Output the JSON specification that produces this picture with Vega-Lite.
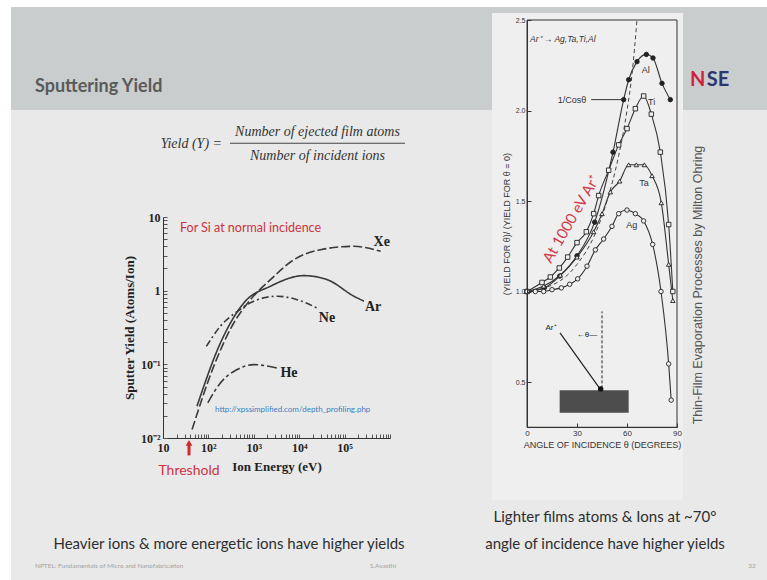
{
  "$schema": "https://vega.github.io/schema/vega-lite/v6.json",
  "width": 756,
  "height": 573,
  "autosize": {"type": "none"},
  "padding": {"left": 11, "top": 7, "right": 0, "bottom": 0},
  "background": "#ffffff",
  "view": {
    "stroke": null,
    "fill": {"gradient": "linear", "x1": 0, "y1": 0, "x2": 0, "y2": 1,
      "stops": [
        {"offset": 0, "color": "#c9cdcd"},
        {"offset": 0.1795, "color": "#c9cdcd"},
        {"offset": 0.1797, "color": "#e9e9e9"},
        {"offset": 1, "color": "#e9e9e9"}
      ]}
  },
  "config": {"axis": {"zindex": 1, "grid": false}},
  "datasets": {
    "one": [{}],
    "sputter": [
      {"ion": "Xe", "energy_eV": 43.6, "yield": 0.013},
      {"ion": "Xe", "energy_eV": 131, "yield": 0.094},
      {"ion": "Xe", "energy_eV": 362, "yield": 0.364},
      {"ion": "Xe", "energy_eV": 844, "yield": 0.755},
      {"ion": "Xe", "energy_eV": 2330, "yield": 1.41},
      {"ion": "Xe", "energy_eV": 7620, "yield": 2.63},
      {"ion": "Xe", "energy_eV": 29600, "yield": 3.6},
      {"ion": "Xe", "energy_eV": 160700, "yield": 4.0},
      {"ion": "Xe", "energy_eV": 622000, "yield": 3.42},
      {"ion": "Ar", "energy_eV": 56, "yield": 0.027},
      {"ion": "Ar", "energy_eV": 184, "yield": 0.195},
      {"ion": "Ar", "energy_eV": 601, "yield": 0.68},
      {"ion": "Ar", "energy_eV": 2330, "yield": 1.15},
      {"ion": "Ar", "energy_eV": 12700, "yield": 1.6},
      {"ion": "Ar", "energy_eV": 41500, "yield": 1.41},
      {"ion": "Ar", "energy_eV": 160700, "yield": 0.84},
      {"ion": "Ar", "energy_eV": 267000, "yield": 0.72},
      {"ion": "Ne", "energy_eV": 90, "yield": 0.175},
      {"ion": "Ne", "energy_eV": 184, "yield": 0.33},
      {"ion": "Ne", "energy_eV": 429, "yield": 0.52},
      {"ion": "Ne", "energy_eV": 1000, "yield": 0.72},
      {"ion": "Ne", "energy_eV": 3270, "yield": 0.84},
      {"ion": "Ne", "energy_eV": 9040, "yield": 0.755},
      {"ion": "Ne", "energy_eV": 24900, "yield": 0.58},
      {"ion": "He", "energy_eV": 97, "yield": 0.03},
      {"ion": "He", "energy_eV": 184, "yield": 0.056},
      {"ion": "He", "energy_eV": 429, "yield": 0.085},
      {"ion": "He", "energy_eV": 1000, "yield": 0.099},
      {"ion": "He", "energy_eV": 3270, "yield": 0.089}
    ],
    "sputterLabels": [
      {"ion": "Xe", "energy_eV": 656000, "yield": 4.62},
      {"ion": "Ar", "energy_eV": 423000, "yield": 0.6},
      {"ion": "Ne", "energy_eV": 40900, "yield": 0.426},
      {"ion": "He", "energy_eV": 5960, "yield": 0.0755}
    ],
    "angular": [
      {"metal": "Al", "angle_deg": 0, "ratio": 1.0},
      {"metal": "Al", "angle_deg": 10.4, "ratio": 1.02},
      {"metal": "Al", "angle_deg": 19.6, "ratio": 1.085},
      {"metal": "Al", "angle_deg": 30, "ratio": 1.197},
      {"metal": "Al", "angle_deg": 40.6, "ratio": 1.383},
      {"metal": "Al", "angle_deg": 51.6, "ratio": 1.77},
      {"metal": "Al", "angle_deg": 58, "ratio": 2.06},
      {"metal": "Al", "angle_deg": 61, "ratio": 2.17},
      {"metal": "Al", "angle_deg": 66, "ratio": 2.27},
      {"metal": "Al", "angle_deg": 71.6, "ratio": 2.31},
      {"metal": "Al", "angle_deg": 75.6, "ratio": 2.29},
      {"metal": "Al", "angle_deg": 81, "ratio": 2.15},
      {"metal": "Al", "angle_deg": 86, "ratio": 2.06},
      {"metal": "Ti", "angle_deg": 0, "ratio": 1.0},
      {"metal": "Ti", "angle_deg": 9, "ratio": 1.05},
      {"metal": "Ti", "angle_deg": 14, "ratio": 1.08},
      {"metal": "Ti", "angle_deg": 19.4, "ratio": 1.13},
      {"metal": "Ti", "angle_deg": 24.4, "ratio": 1.19},
      {"metal": "Ti", "angle_deg": 30, "ratio": 1.27},
      {"metal": "Ti", "angle_deg": 35.6, "ratio": 1.33},
      {"metal": "Ti", "angle_deg": 40, "ratio": 1.43},
      {"metal": "Ti", "angle_deg": 43, "ratio": 1.53},
      {"metal": "Ti", "angle_deg": 49, "ratio": 1.67},
      {"metal": "Ti", "angle_deg": 55, "ratio": 1.81},
      {"metal": "Ti", "angle_deg": 60, "ratio": 1.9},
      {"metal": "Ti", "angle_deg": 65, "ratio": 2.01},
      {"metal": "Ti", "angle_deg": 70, "ratio": 2.08},
      {"metal": "Ti", "angle_deg": 74.6, "ratio": 1.98},
      {"metal": "Ti", "angle_deg": 80, "ratio": 1.77},
      {"metal": "Ti", "angle_deg": 85, "ratio": 1.37},
      {"metal": "Ti", "angle_deg": 87.5, "ratio": 1.0},
      {"metal": "Ta", "angle_deg": 0, "ratio": 1.0},
      {"metal": "Ta", "angle_deg": 10, "ratio": 1.03},
      {"metal": "Ta", "angle_deg": 20, "ratio": 1.09},
      {"metal": "Ta", "angle_deg": 30, "ratio": 1.19},
      {"metal": "Ta", "angle_deg": 40, "ratio": 1.33},
      {"metal": "Ta", "angle_deg": 45, "ratio": 1.43},
      {"metal": "Ta", "angle_deg": 50, "ratio": 1.55},
      {"metal": "Ta", "angle_deg": 55.6, "ratio": 1.61},
      {"metal": "Ta", "angle_deg": 61, "ratio": 1.7},
      {"metal": "Ta", "angle_deg": 65.6, "ratio": 1.7},
      {"metal": "Ta", "angle_deg": 70.4, "ratio": 1.7},
      {"metal": "Ta", "angle_deg": 75, "ratio": 1.64},
      {"metal": "Ta", "angle_deg": 80.6, "ratio": 1.49},
      {"metal": "Ta", "angle_deg": 85, "ratio": 1.15},
      {"metal": "Ta", "angle_deg": 87.5, "ratio": 0.95},
      {"metal": "Ag", "angle_deg": 0, "ratio": 1.0},
      {"metal": "Ag", "angle_deg": 5, "ratio": 1.0},
      {"metal": "Ag", "angle_deg": 10, "ratio": 1.0},
      {"metal": "Ag", "angle_deg": 15, "ratio": 1.01},
      {"metal": "Ag", "angle_deg": 20.6, "ratio": 1.02},
      {"metal": "Ag", "angle_deg": 25.6, "ratio": 1.04},
      {"metal": "Ag", "angle_deg": 30.4, "ratio": 1.07},
      {"metal": "Ag", "angle_deg": 36, "ratio": 1.14},
      {"metal": "Ag", "angle_deg": 41, "ratio": 1.23},
      {"metal": "Ag", "angle_deg": 46, "ratio": 1.29},
      {"metal": "Ag", "angle_deg": 51, "ratio": 1.36},
      {"metal": "Ag", "angle_deg": 55, "ratio": 1.43},
      {"metal": "Ag", "angle_deg": 60, "ratio": 1.45},
      {"metal": "Ag", "angle_deg": 65, "ratio": 1.43},
      {"metal": "Ag", "angle_deg": 70, "ratio": 1.39},
      {"metal": "Ag", "angle_deg": 75.4, "ratio": 1.26},
      {"metal": "Ag", "angle_deg": 80.4, "ratio": 1.0},
      {"metal": "Ag", "angle_deg": 85, "ratio": 0.6},
      {"metal": "Ag", "angle_deg": 86.5, "ratio": 0.4}
    ],
    "cosine": [
      {"angle_deg": 0, "ratio": 1.0},
      {"angle_deg": 20, "ratio": 1.06},
      {"angle_deg": 30, "ratio": 1.15},
      {"angle_deg": 40, "ratio": 1.3},
      {"angle_deg": 48, "ratio": 1.5},
      {"angle_deg": 55, "ratio": 1.75},
      {"angle_deg": 60, "ratio": 2.0},
      {"angle_deg": 63, "ratio": 2.2},
      {"angle_deg": 66, "ratio": 2.5}
    ],
    "angularLabels": [
      {"metal": "Al", "angle_deg": 71.2, "ratio": 2.224},
      {"metal": "Ti", "angle_deg": 74.8, "ratio": 2.049},
      {"metal": "Ta", "angle_deg": 70.2, "ratio": 1.599},
      {"metal": "Ag", "angle_deg": 62.8, "ratio": 1.367}
    ]
  },
  "resolve": {"scale": {"x": "independent", "y": "independent"}},
  "layer": [
    {
      "layer": [
        {
          "data": {"name": "sputter"},
          "mark": {"type": "line", "interpolate": "monotone", "color": "#3a3a3a", "strokeWidth": 1.6},
          "encoding": {
            "x": {
              "field": "energy_eV", "type": "quantitative",
              "scale": {"type": "log", "domain": [10, 1000000], "range": [152, 379], "nice": false},
              "axis": {
                "orient": "bottom", "offset": -142, "zindex": 1,
                "values": [10,20,30,40,50,60,70,80,90,100,200,300,400,500,600,700,800,900,1000,2000,3000,4000,5000,6000,7000,8000,9000,10000,20000,30000,40000,50000,60000,70000,80000,90000,100000,200000,300000,400000,500000,600000,700000,800000,900000,1000000],
                "labelExpr": "datum.value === 10 ? '10' : datum.value === 100 ? '10²' : datum.value === 1000 ? '10³' : datum.value === 10000 ? '10⁴' : datum.value === 100000 ? '10⁵' : ''",
                "labelFont": "Liberation Serif", "labelFontWeight": "bold", "labelFontSize": 12, "labelColor": "#222",
                "labelPadding": 8, "labelFlush": false, "labelOverlap": false,
                "tickSize": -4, "tickColor": "#555", "domainColor": "#333",
                "title": "Ion Energy (eV)", "titleFont": "Liberation Serif", "titleFontWeight": "bold", "titleFontSize": 13, "titleColor": "#222", "titlePadding": 7
              }
            },
            "y": {
              "field": "yield", "type": "quantitative",
              "scale": {"type": "log", "domain": [0.01, 10], "range": [431, 210], "nice": false},
              "axis": {
                "orient": "left", "offset": -152, "zindex": 1,
                "values": [0.01,0.02,0.03,0.04,0.05,0.06,0.07,0.08,0.09,0.1,0.2,0.3,0.4,0.5,0.6,0.7,0.8,0.9,1,2,3,4,5,6,7,8,9,10],
                "labelExpr": "datum.value === 10 ? '10' : datum.value === 1 ? '1' : datum.value === 0.1 ? '10⁻¹' : datum.value === 0.01 ? '10⁻²' : ''",
                "labelFont": "Liberation Serif", "labelFontWeight": "bold", "labelFontSize": 12, "labelColor": "#222",
                "labelPadding": 7, "labelFlush": false, "labelOverlap": false,
                "tickSize": -4, "tickColor": "#555", "domainColor": "#333",
                "title": "Sputter Yield (Atoms/Ion)", "titleFont": "Liberation Serif", "titleFontWeight": "bold", "titleFontSize": 13, "titleColor": "#222", "titlePadding": 4
              }
            },
            "strokeDash": {
              "field": "ion", "type": "nominal",
              "scale": {"domain": ["Xe", "Ar", "Ne", "He"], "range": [[9, 3], [1, 0], [7, 3, 2, 3], [10, 3, 3, 3]]},
              "legend": null
            }
          }
        },
        {
          "data": {"name": "sputterLabels"},
          "mark": {"type": "text", "font": "Liberation Serif", "fontWeight": "bold", "fontSize": 14, "color": "#222"},
          "encoding": {
            "x": {"field": "energy_eV", "type": "quantitative"},
            "y": {"field": "yield", "type": "quantitative"},
            "text": {"field": "ion"}
          }
        },
        {
          "data": {"name": "one"},
          "mark": {"type": "text", "text": "For Si at normal incidence", "align": "left", "baseline": "alphabetic", "font": "Lato", "fontSize": 12.5, "color": "#cc3340"},
          "encoding": {"x": {"datum": 23.7, "type": "quantitative"}, "y": {"datum": 6.25, "type": "quantitative"}}
        },
        {
          "data": {"name": "one"},
          "mark": {"type": "text", "text": "http://xpssimplified.com/depth_profiling.php", "align": "left", "baseline": "alphabetic", "font": "Lato", "fontSize": 8, "color": "#3d7fc3"},
          "encoding": {"x": {"datum": 139.7, "type": "quantitative"}, "y": {"datum": 0.0226, "type": "quantitative"}}
        },
        {
          "data": {"name": "one"},
          "mark": {"type": "rule", "color": "#cc2b2b", "strokeWidth": 3},
          "encoding": {"x": {"datum": 37.4, "type": "quantitative"}, "y": {"datum": 0.0058, "type": "quantitative"}, "y2": {"datum": 0.0082}}
        },
        {
          "data": {"name": "one"},
          "mark": {"type": "point", "shape": "triangle-up", "filled": true, "size": 45, "color": "#cc2b2b", "opacity": 1},
          "encoding": {"x": {"datum": 37.4, "type": "quantitative"}, "y": {"datum": 0.0086, "type": "quantitative"}}
        },
        {
          "data": {"name": "one"},
          "mark": {"type": "text", "text": "Threshold", "align": "center", "baseline": "alphabetic", "font": "Lato", "fontSize": 14, "color": "#cc3340"},
          "encoding": {"x": {"datum": 37.4, "type": "quantitative"}, "y": {"datum": 0.0031, "type": "quantitative"}}
        }
      ]
    },
    {
      "layer": [
        {
          "data": {"name": "one"},
          "mark": {"type": "rect", "color": "#efefef"},
          "encoding": {
            "x": {"datum": -21, "type": "quantitative"},
            "x2": {"datum": 93.6},
            "y": {"datum": 2.539, "type": "quantitative"},
            "y2": {"datum": -0.152}
          }
        },
        {
          "data": {"name": "angular"},
          "mark": {"type": "line", "interpolate": "monotone", "color": "#333", "strokeWidth": 1.1},
          "encoding": {
            "x": {
              "field": "angle_deg", "type": "quantitative",
              "scale": {"domain": [0, 90], "range": [516, 666], "nice": false, "zero": false},
              "axis": {
                "orient": "bottom", "offset": -153, "zindex": 1, "values": [0, 30, 60, 90],
                "labelFont": "Liberation Sans", "labelFontSize": 8, "labelColor": "#333", "labelPadding": 6, "labelFlush": false,
                "tickSize": -4, "tickColor": "#333", "domainColor": "#333",
                "title": "ANGLE OF INCIDENCE θ (DEGREES)", "titleFont": "Liberation Sans", "titleFontWeight": "normal", "titleFontSize": 9, "titleColor": "#333", "titlePadding": 3
              }
            },
            "y": {
              "field": "ratio", "type": "quantitative",
              "scale": {"domain": [0.25, 2.5], "range": [420.25, 13], "nice": false, "zero": false},
              "axis": {
                "orient": "left", "offset": -516, "zindex": 1, "values": [0.5, 1, 1.5, 2, 2.5], "format": ".1f",
                "labelFont": "Liberation Sans", "labelFontSize": 7, "labelColor": "#333", "labelPadding": 6, "labelFlush": false,
                "tickSize": -4, "tickColor": "#333", "domainColor": "#333",
                "title": "(YIELD FOR θ)/ (YIELD FOR θ = 0)", "titleFont": "Liberation Sans", "titleFontWeight": "normal", "titleFontSize": 9, "titleColor": "#333", "titlePadding": 4
              }
            },
            "detail": {"field": "metal"}
          }
        },
        {
          "data": {"name": "one"},
          "mark": {"type": "rect", "fillOpacity": 0, "stroke": "#333", "strokeWidth": 1},
          "encoding": {
            "x": {"datum": 0, "type": "quantitative"}, "x2": {"datum": 90},
            "y": {"datum": 0.25, "type": "quantitative"}, "y2": {"datum": 2.5}
          }
        },
        {
          "data": {"name": "cosine"},
          "mark": {"type": "line", "interpolate": "monotone", "color": "#444", "strokeWidth": 1, "strokeDash": [4, 3]},
          "encoding": {
            "x": {"field": "angle_deg", "type": "quantitative"},
            "y": {"field": "ratio", "type": "quantitative"}
          }
        },
        {
          "data": {"name": "angular"},
          "mark": {"type": "point", "filled": true, "size": 20, "stroke": "#222", "strokeWidth": 0.9, "opacity": 1},
          "encoding": {
            "x": {"field": "angle_deg", "type": "quantitative"},
            "y": {"field": "ratio", "type": "quantitative"},
            "shape": {"field": "metal", "type": "nominal", "scale": {"domain": ["Al", "Ti", "Ta", "Ag"], "range": ["circle", "square", "triangle-up", "circle"]}, "legend": null},
            "fill": {"field": "metal", "type": "nominal", "scale": {"domain": ["Al", "Ti", "Ta", "Ag"], "range": ["#222222", "#efefef", "#efefef", "#efefef"]}, "legend": null}
          }
        },
        {
          "data": {"name": "angularLabels"},
          "mark": {"type": "text", "font": "Liberation Sans", "fontSize": 9, "color": "#333"},
          "encoding": {
            "x": {"field": "angle_deg", "type": "quantitative"},
            "y": {"field": "ratio", "type": "quantitative"},
            "text": {"field": "metal"}
          }
        },
        {
          "data": {"name": "one"},
          "mark": {"type": "text", "text": "1/Cosθ", "font": "Liberation Sans", "fontSize": 9, "color": "#333", "align": "center"},
          "encoding": {"x": {"datum": 27, "type": "quantitative"}, "y": {"datum": 2.058, "type": "quantitative"}}
        },
        {
          "data": {"name": "one"},
          "mark": {"type": "rule", "color": "#333", "strokeWidth": 1},
          "encoding": {"x": {"datum": 38.5, "type": "quantitative"}, "x2": {"datum": 57}, "y": {"datum": 2.06, "type": "quantitative"}}
        },
        {
          "data": {"name": "one"},
          "mark": {"type": "text", "text": "Ar⁺ → Ag,Ta,Ti,Al", "font": "Liberation Sans", "fontStyle": "italic", "fontSize": 8.5, "color": "#333", "align": "left"},
          "encoding": {"x": {"datum": 1.8, "type": "quantitative"}, "y": {"datum": 2.395, "type": "quantitative"}}
        },
        {
          "data": {"name": "one"},
          "mark": {"type": "text", "text": "At 1000 eV Ar⁺", "font": "Lato", "fontSize": 15, "color": "#d0394a", "angle": 300, "align": "center"},
          "encoding": {"x": {"datum": 26.5, "type": "quantitative"}, "y": {"datum": 1.4, "type": "quantitative"}}
        },
        {
          "data": {"name": "one"},
          "mark": {"type": "rect", "color": "#4d4d4d"},
          "encoding": {"x": {"datum": 19.6, "type": "quantitative"}, "x2": {"datum": 61}, "y": {"datum": 0.455, "type": "quantitative"}, "y2": {"datum": 0.33}}
        },
        {
          "data": {"name": "one"},
          "mark": {"type": "rule", "color": "#222", "strokeWidth": 1.2},
          "encoding": {"x": {"datum": 19.8, "type": "quantitative"}, "x2": {"datum": 43.6}, "y": {"datum": 0.771, "type": "quantitative"}, "y2": {"datum": 0.465}}
        },
        {
          "data": {"name": "one"},
          "mark": {"type": "rule", "color": "#222", "strokeWidth": 1, "strokeDash": [3, 2]},
          "encoding": {"x": {"datum": 45, "type": "quantitative"}, "y": {"datum": 0.465, "type": "quantitative"}, "y2": {"datum": 0.89}}
        },
        {
          "data": {"name": "one"},
          "mark": {"type": "point", "filled": true, "size": 30, "color": "#111", "opacity": 1},
          "encoding": {"x": {"datum": 44.2, "type": "quantitative"}, "y": {"datum": 0.462, "type": "quantitative"}}
        },
        {
          "data": {"name": "one"},
          "mark": {"type": "text", "text": "Ar⁺", "font": "Liberation Sans", "fontSize": 8, "color": "#222"},
          "encoding": {"x": {"datum": 14.4, "type": "quantitative"}, "y": {"datum": 0.8, "type": "quantitative"}}
        },
        {
          "data": {"name": "one"},
          "mark": {"type": "text", "text": "←θ—", "font": "Liberation Sans", "fontSize": 8, "color": "#222"},
          "encoding": {"x": {"datum": 36, "type": "quantitative"}, "y": {"datum": 0.76, "type": "quantitative"}}
        },
        {
          "data": {"name": "one"},
          "mark": {"type": "text", "text": "Thin-Film Evaporation Processes by Milton Ohring", "font": "Liberation Sans", "fontSize": 12.5, "color": "#555", "angle": 270, "align": "center", "baseline": "middle"},
          "encoding": {"x": {"datum": 102.6, "type": "quantitative"}, "y": {"datum": 1.036, "type": "quantitative"}}
        },
        {
          "data": {"name": "one"},
          "mark": {"type": "text", "text": "N", "font": "Lato", "fontWeight": "bold", "fontSize": 20, "color": "#cf1f3a", "align": "left", "baseline": "middle"},
          "encoding": {"x": {"datum": 97.8, "type": "quantitative"}, "y": {"datum": 2.169, "type": "quantitative"}}
        },
        {
          "data": {"name": "one"},
          "mark": {"type": "text", "text": "SE", "font": "Lato", "fontWeight": "bold", "fontSize": 20, "color": "#2c3770", "align": "left", "baseline": "middle"},
          "encoding": {"x": {"datum": 107.8, "type": "quantitative"}, "y": {"datum": 2.169, "type": "quantitative"}}
        },
        {
          "data": {"name": "one"},
          "mark": {"type": "text", "text": "Sputtering Yield", "font": "Lato", "fontWeight": "bold", "fontSize": 18, "color": "#5a5a5a", "align": "left", "baseline": "alphabetic"},
          "encoding": {"x": {"datum": -295.2, "type": "quantitative"}, "y": {"datum": 2.102, "type": "quantitative"}}
        },
        {
          "data": {"name": "one"},
          "mark": {"type": "text", "text": "Number of ejected film atoms", "font": "Liberation Serif", "fontStyle": "italic", "fontSize": 14, "color": "#333", "align": "center", "baseline": "alphabetic"},
          "encoding": {"x": {"datum": -125.7, "type": "quantitative"}, "y": {"datum": 1.859, "type": "quantitative"}}
        },
        {
          "data": {"name": "one"},
          "mark": {"type": "rule", "color": "#444", "strokeWidth": 1},
          "encoding": {"x": {"datum": -178.2, "type": "quantitative"}, "x2": {"datum": -73.2}, "y": {"datum": 1.819, "type": "quantitative"}}
        },
        {
          "data": {"name": "one"},
          "mark": {"type": "text", "text": "Number of incident ions", "font": "Liberation Serif", "fontStyle": "italic", "fontSize": 14, "color": "#333", "align": "center", "baseline": "alphabetic"},
          "encoding": {"x": {"datum": -125.7, "type": "quantitative"}, "y": {"datum": 1.727, "type": "quantitative"}}
        },
        {
          "data": {"name": "one"},
          "mark": {"type": "text", "text": "Yield (Y) =", "font": "Liberation Serif", "fontStyle": "italic", "fontSize": 14, "color": "#333", "align": "right", "baseline": "alphabetic"},
          "encoding": {"x": {"datum": -183, "type": "quantitative"}, "y": {"datum": 1.793, "type": "quantitative"}}
        },
        {
          "data": {"name": "one"},
          "mark": {"type": "text", "text": "Heavier ions & more energetic ions have higher yields", "font": "Lato", "fontSize": 15, "color": "#2e2e2e", "align": "center", "baseline": "alphabetic"},
          "encoding": {"x": {"datum": -178.8, "type": "quantitative"}, "y": {"datum": -0.4227, "type": "quantitative"}}
        },
        {
          "data": {"name": "one"},
          "mark": {"type": "text", "text": ["Lighter films atoms & Ions at ~70°", "angle of incidence have higher yields"], "lineHeight": 27, "font": "Lato", "fontSize": 15, "color": "#2e2e2e", "align": "center", "baseline": "alphabetic"},
          "encoding": {"x": {"datum": 46.8, "type": "quantitative"}, "y": {"datum": -0.2735, "type": "quantitative"}}
        },
        {
          "data": {"name": "one"},
          "mark": {"type": "text", "text": "NPTEL: Fundamentals of Micro and Nanofabrication", "font": "Lato", "fontSize": 6.5, "color": "#a3a3a3", "align": "left", "baseline": "alphabetic"},
          "encoding": {"x": {"datum": -295.2, "type": "quantitative"}, "y": {"datum": -0.528, "type": "quantitative"}}
        },
        {
          "data": {"name": "one"},
          "mark": {"type": "text", "text": "S.Avasthi", "font": "Lato", "fontSize": 6.5, "color": "#a3a3a3", "align": "center", "baseline": "alphabetic"},
          "encoding": {"x": {"datum": -86.4, "type": "quantitative"}, "y": {"datum": -0.528, "type": "quantitative"}}
        },
        {
          "data": {"name": "one"},
          "mark": {"type": "text", "text": "32", "font": "Lato", "fontSize": 6.5, "color": "#a3a3a3", "align": "center", "baseline": "alphabetic"},
          "encoding": {"x": {"datum": 135, "type": "quantitative"}, "y": {"datum": -0.528, "type": "quantitative"}}
        }
      ]
    }
  ]
}
